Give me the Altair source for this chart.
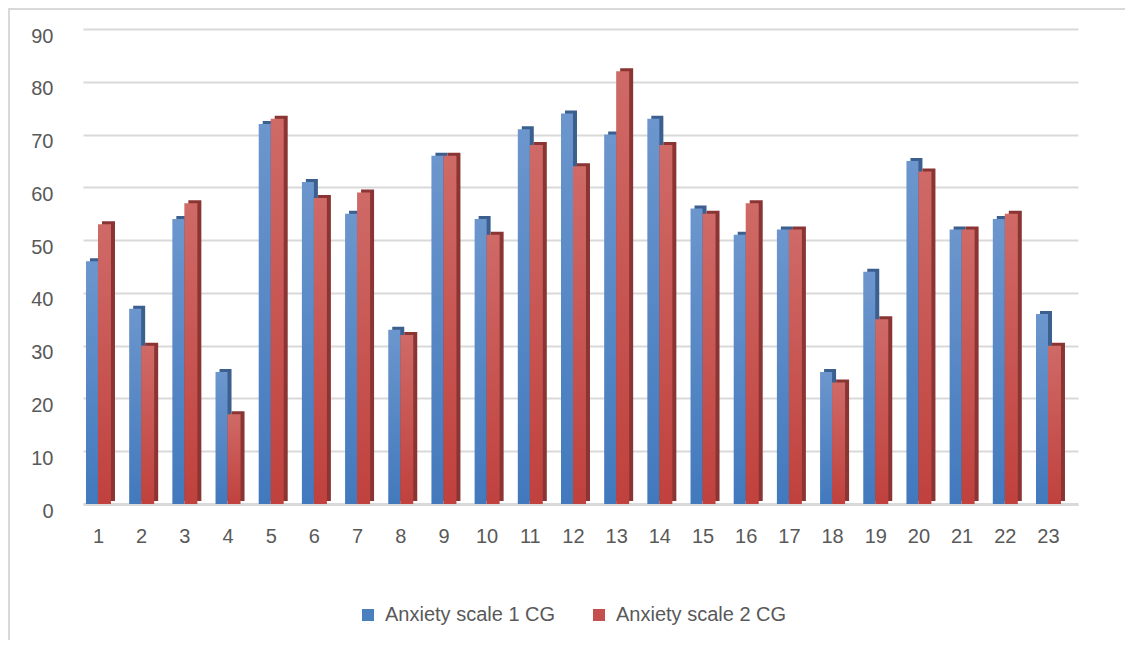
import altair as alt
import pandas as pd

participants = list(range(1, 24))
scale1 = [46, 37, 54, 25, 72, 61, 55, 33, 66, 54, 71, 74, 70, 73, 56, 51, 52, 25, 44, 65, 52, 54, 36]
scale2 = [53, 30, 57, 17, 73, 58, 59, 32, 66, 51, 68, 64, 82, 68, 55, 57, 52, 23, 35, 63, 52, 55, 30]
series_names = ["Anxiety scale 1 CG", "Anxiety scale 2 CG"]
y_ticks = [0, 10, 20, 30, 40, 50, 60, 70, 80, 90]

rows = []
for p, a, b in zip(participants, scale1, scale2):
    rows.append({"participant": p, "value": a, "series": series_names[0]})
    rows.append({"participant": p, "value": b, "series": series_names[1]})
df = pd.DataFrame(rows)

FONT = "Liberation Sans"
TXT = "#595959"
GRID = "#d9d9d9"

W, H = 995, 475

x_enc = alt.X("participant:Q",
              scale=alt.Scale(domain=[0.653, 23.695], nice=False, zero=False, padding=0),
              axis=alt.Axis(values=participants, format="d", title=None, grid=False,
                            ticks=False, domain=True, domainColor=GRID, domainWidth=3,
                            labelFontSize=20, labelColor=TXT, labelFont=FONT,
                            labelPadding=22, labelFlush=False))
y_enc = alt.Y("value:Q",
              scale=alt.Scale(domain=[0, 90], nice=False),
              axis=alt.Axis(values=y_ticks, title=None, grid=True, gridColor=GRID,
                            gridWidth=2, ticks=False, domain=False,
                            labelFontSize=20, labelColor=TXT, labelFont=FONT,
                            labelPadding=30, labelOffset=7))

base = alt.Chart(df)

def grad(top, bottom):
    return alt.Gradient(gradient="linear",
                        stops=[alt.GradientStop(color=top, offset=0),
                               alt.GradientStop(color=bottom, offset=1)],
                        x1=0, x2=0, y1=0, y2=1)

blue_shadow = base.transform_filter(alt.datum.series == series_names[0]).mark_bar(
    width=12, xOffset=-2, yOffset=-3, color="#3b5f8e").encode(x=x_enc, y=y_enc)
blue_front = base.transform_filter(alt.datum.series == series_names[0]).mark_bar(
    width=12, xOffset=-6, color=grad("#6c96cd", "#4279bd")).encode(x=x_enc, y=y_enc)
red_shadow = base.transform_filter(alt.datum.series == series_names[1]).mark_bar(
    width=13, xOffset=10.5, yOffset=-3, color="#8a3533").encode(x=x_enc, y=y_enc)
red_front = base.transform_filter(alt.datum.series == series_names[1]).mark_bar(
    width=13, xOffset=6.5, color=grad("#cf6a67", "#c0413d")).encode(x=x_enc, y=y_enc)

legend_layer = base.mark_square(opacity=0, size=1).encode(
    x=x_enc, y=y_enc,
    color=alt.Color("series:N",
                    scale=alt.Scale(domain=series_names, range=["#4a7fc0", "#c4504d"]),
                    legend=alt.Legend(title=None, orient="none", legendX=275, legendY=576,
                                      direction="horizontal", symbolType="square",
                                      symbolSize=144, symbolOpacity=1, symbolStrokeWidth=0,
                                      labelFontSize=20, labelFont=FONT, labelColor=TXT,
                                      labelLimit=400, labelOffset=7, columnPadding=33,
                                      padding=0)))

frame_left = alt.Chart(pd.DataFrame({"k": [0]})).mark_rule(color=GRID, strokeWidth=2).encode(
    x=alt.value(-74), y=alt.value(-21), y2=alt.value(H + 140))
frame_top = alt.Chart(pd.DataFrame({"k": [0]})).mark_rule(color=GRID, strokeWidth=2).encode(
    x=alt.value(-74), x2=alt.value(W + 60), y=alt.value(-20))

chart = alt.layer(frame_left, frame_top, blue_shadow, blue_front, red_shadow, red_front,
                  legend_layer).properties(
    width=W, height=H,
    autosize=alt.AutoSizeParams(type="none"),
    padding={"left": 75, "top": 21, "right": 47, "bottom": 136},
).configure_view(stroke=None)

chart.save("out.html", embed_options={"renderer": "svg", "actions": False})
